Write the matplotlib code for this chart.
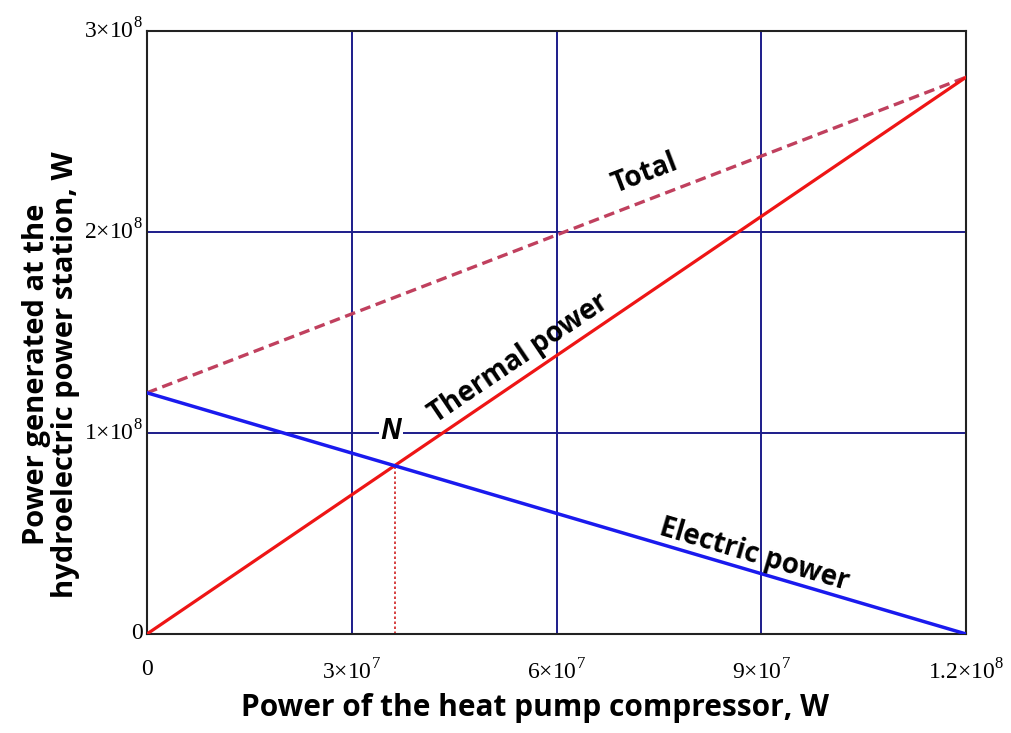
import matplotlib
matplotlib.use("Agg")
import matplotlib.pyplot as plt
import numpy as np

# ── data ──────────────────────────────────────────────────────────────────────
x_pts = np.array([0.0, 1.2e8])            # compressor power, W
thermal = np.array([0.0, 2.77e8])         # thermal power, W
electric = np.array([1.2e8, 0.0])         # electric power, W
total = electric + thermal                # total, W

x_ticks = [0, 3e7, 6e7, 9e7, 1.2e8]
x_tick_labels = ["0", r"3×10$^7$", r"6×10$^7$", r"9×10$^7$", r"1.2×10$^8$"]
y_ticks = [0, 1e8, 2e8, 3e8]
y_tick_labels = ["0", r"1×10$^8$", r"2×10$^8$", r"3×10$^8$"]

# point N: thermal == electric
k_th = (thermal[1] - thermal[0]) / (x_pts[1] - x_pts[0])
k_el = (electric[1] - electric[0]) / (x_pts[1] - x_pts[0])
n_x = (electric[0] - thermal[0]) / (k_th - k_el)
n_y = thermal[0] + k_th * n_x

# ── plot ──────────────────────────────────────────────────────────────────────
plt.rcParams["mathtext.fontset"] = "custom"
plt.rcParams["mathtext.rm"] = "Liberation Serif"

fig = plt.figure(figsize=(10.11, 7.33), dpi=100)
ax = fig.add_axes([0.1454, 0.1351, 0.8101, 0.8226])

grid_c = "#1c1c8a"
for gx in x_ticks[1:-1]:
    ax.axvline(gx, color=grid_c, lw=1.4, zorder=1)
for gy in y_ticks[1:-1]:
    ax.axhline(gy, color=grid_c, lw=1.4, zorder=1)

ax.plot(x_pts, total, color="#c0405e", lw=2.4, ls=(0, (3.2, 1.7)), zorder=3)
ax.plot(x_pts, thermal, color="#ee1515", lw=2.3, zorder=4)
ax.plot(x_pts, electric, color="#1a1aee", lw=2.5, zorder=4)
ax.plot([n_x, n_x], [0, n_y], color="#d02020", lw=1.2, ls=(0, (1.5, 1.5)), zorder=2)

ax.set_xlim(0, 1.2e8)
ax.set_ylim(0, 3e8)
for s in ax.spines.values():
    s.set_linewidth(1.5)
    s.set_color("#222222")

ax.set_xticks(x_ticks)
ax.set_xticklabels(x_tick_labels, fontfamily="Liberation Serif", fontsize=17)
ax.set_yticks(y_ticks)
ax.set_yticklabels(y_tick_labels, fontfamily="Liberation Serif", fontsize=17)
ax.tick_params(axis="x", length=0, pad=18)
ax.tick_params(axis="y", length=0, pad=3)
for lbl in ax.get_yticklabels():
    lbl.set_verticalalignment("center")

ax.set_xlabel("Power of the heat pump compressor, W", fontfamily="Open Sans",
              fontweight="bold", fontsize=21.5, va="top")
ax.xaxis.set_label_coords(0.474, -0.098)
ax.set_ylabel("Power generated at the\nhydroelectric power station, W",
              fontfamily="Open Sans", fontweight="bold", fontsize=21,
              linespacing=1.0)
ax.yaxis.set_label_coords(-0.082, 0.43)

lab = dict(fontfamily="Open Sans", fontweight="bold", fontsize=20,
           ha="center", va="center", zorder=5)
ax.text(7.30e7, 2.29e8, "Total", rotation=21, **lab)
ax.text(5.45e7, 1.37e8, "Thermal power", rotation=34, **lab)
ax.text(8.90e7, 3.95e7, "Electric power", rotation=-16.5, **lab)
ax.text(n_x - 0.05e7, 1.005e8, "N", fontfamily="Open Sans", fontweight="bold",
        fontstyle="italic", fontsize=20, ha="center", va="center", zorder=5,
        bbox=dict(facecolor="white", edgecolor="none", pad=1))

fig.savefig("out.png", dpi=100)
